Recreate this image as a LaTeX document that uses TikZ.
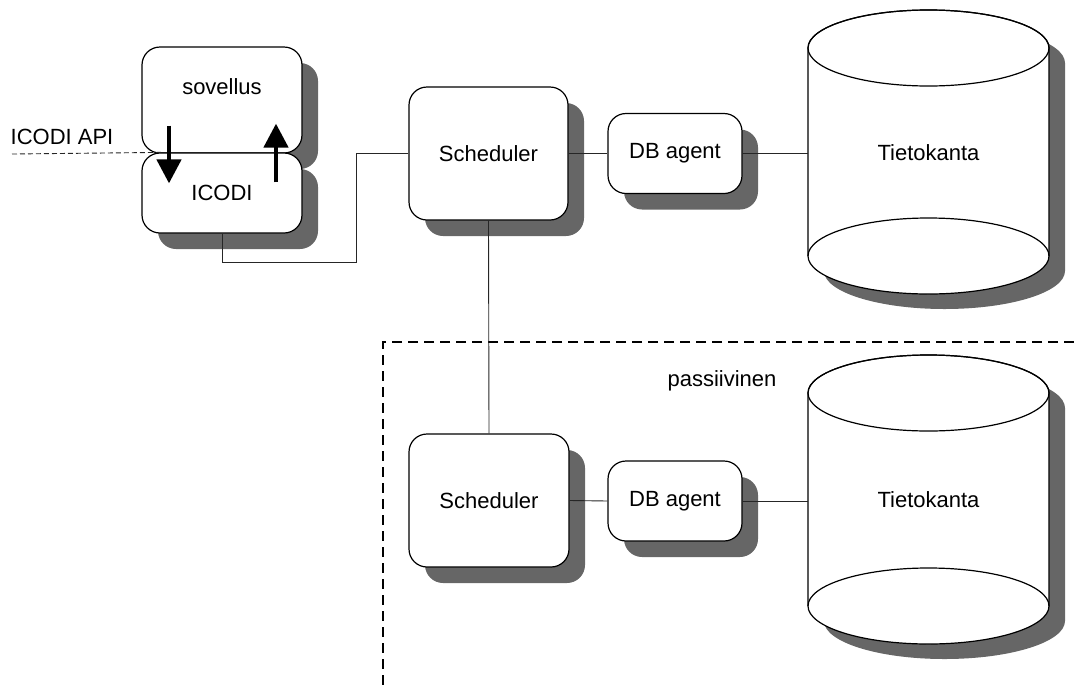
\documentclass[tikz,border=0pt]{standalone}
\usepackage{fontspec}
\setmainfont{Liberation Sans}
\usetikzlibrary{shadows,arrows.meta,calc}
\definecolor{shadowgray}{RGB}{102,102,102}

\tikzset{
  % database drum: origin at the centre of the top ellipse, #1 = distance to the bottom ellipse
  pics/drum/.style={code={
    \fill[shadowgray] (136.5,15) -- (136.5,15+#1)
      arc[start angle=0, end angle=180, x radius=120.5, y radius=38]
      -- (-104.5,15)
      arc[start angle=180, end angle=360, x radius=120.5, y radius=38] -- cycle;
    \filldraw[fill=white, line width=1.2pt] (120.5,0) -- (120.5,#1)
      arc[start angle=0, end angle=180, x radius=120.5, y radius=38]
      -- (-120.5,0)
      arc[start angle=180, end angle=360, x radius=120.5, y radius=38] -- cycle;
    \draw[line width=1.2pt] (0,0) ellipse[x radius=120.5, y radius=38];
    \draw[line width=1.2pt] (120.5,#1)
      arc[start angle=0, end angle=-180, x radius=120.5, y radius=38];
  }}
}

\begin{document}
\begin{tikzpicture}[x=1pt, y=-1pt,
  every node/.append style={font=\fontsize{22}{26}\selectfont},
  box/.style={draw=black, line width=1.2pt, fill=white, rounded corners=18pt,
    inner sep=0pt,
    drop shadow={shadow xshift=16pt, shadow yshift=-16pt, fill=shadowgray, opacity=1}},
  link/.style={draw=black!85, line width=0.9pt},
  apiline/.style={draw=black!85, line width=0.9pt, dash pattern=on 5pt off 3pt},
  flow/.style={draw=black, line width=4.5pt, -{Triangle[width=24pt,length=24pt]}},
  zone/.style={draw=black, line width=1.8pt, dash pattern=on 10pt off 6pt},
  label text/.style={inner sep=0pt}
]
\useasboundingbox (0,0) rectangle (1074,686);

% active side: application with its ICODI layer
\node[box, minimum width=160pt, minimum height=106pt,
  label={[anchor=center, yshift=13pt]center:sovellus}] (sov) at (222,100) {};
\node[box, minimum width=160pt, minimum height=80pt] (icodi) at (222,193) {ICODI};

\node[box, minimum width=159pt, minimum height=133pt] (sched) at (488.5,153.5) {Scheduler};
\node[box, minimum width=134pt, minimum height=80pt] (dba) at (675,153.5) {DB agent};
\pic at (928.5,48) {drum=208};
\node[minimum width=241pt, minimum height=200pt, inner sep=0pt] (tk) at (928.5,153) {Tietokanta};

% passive side
\draw[zone] (1074,342) -- (383,342) -- (383,686);
\node[label text] (passive) at (722,381) {passiivinen};

\node[box, minimum width=160pt, minimum height=133pt] (sched2) at (489,500.5) {Scheduler};
\node[box, minimum width=134pt, minimum height=80pt] (dba2) at (675,501) {DB agent};
\pic at (928.5,393) {drum=213};
\node[minimum width=241pt, minimum height=200pt, inner sep=0pt] (tk2) at (928.5,500) {Tietokanta};

% API entry
\node[label text] (api) at (62,137) {ICODI API};
\coordinate (apistart) at (12,154);
\draw[apiline] (apistart) -- ($(icodi.north west)+(20,0)$);

% calls through the API
\draw[flow] ($(sov.south)+(-53,-28)$) -- ($(icodi.north)+(-53,31)$);
\draw[flow] ($(icodi.north)+(54,30)$) -- ($(sov.south)+(54,-30)$);

% connectors
\coordinate (bend) at (356,262);
\draw[link] (icodi.south) |- (bend) |- (sched.west);
\draw[link] (sched.east) -- (dba.west);
\draw[link] (dba.east) -- (dba.east -| tk.west);
\draw[link] (sched.south) -- (sched2.north);
\draw[link] (sched2.east) -- (dba2.west);
\draw[link] (dba2.east) -- (dba2.east -| tk2.west);
\end{tikzpicture}
\end{document}
